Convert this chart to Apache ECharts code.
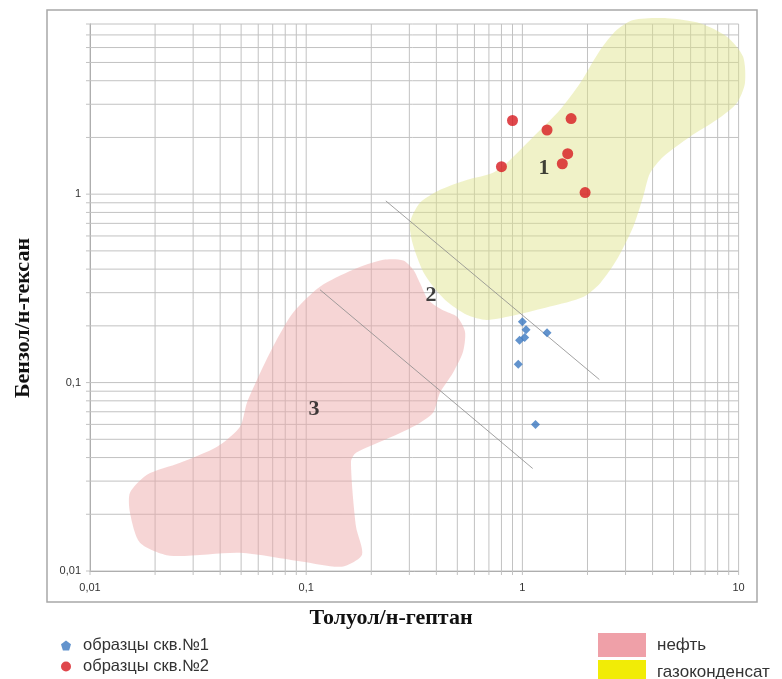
<!DOCTYPE html>
<html><head><meta charset="utf-8">
<script src="https://cdn.jsdelivr.net/npm/echarts@6/dist/echarts.min.js"></script>
<style>html,body{margin:0;padding:0;background:#fff}#chart{width:782px;height:679px}</style>
</head><body><div id="chart"></div>
<script>
// ---- axis ranges and tick labels ----
const X_MIN = 0.01, X_MAX = 10, Y_MIN = 0.01, Y_MAX = 8;
const xTickLabels = ['0,01', '0,1', '1', '10'];
const yTickLabels = ['0,01', '0,1', '1'];
const xGridValues = [0.01,0.02,0.03,0.04,0.05,0.06,0.07,0.08,0.09,0.1,0.2,0.3,0.4,0.5,0.6,0.7,0.8,0.9,1,2,3,4,5,6,7,8,9,10];
const yGridValues = [0.01,0.02,0.03,0.04,0.05,0.06,0.07,0.08,0.09,0.1,0.2,0.3,0.4,0.5,0.6,0.7,0.8,0.9,1,2,3,4,5,6,7,8];

// ---- series names ----
const well1Name = 'образцы скв.№1';
const well2Name = 'образцы скв.№2';
const oilName = 'нефть';
const gasName = 'газоконденсат';

// ---- samples: [толуол/н-гептан, бензол/н-гексан] ----
const well1 = [[1.00,0.210],[1.04,0.191],[0.97,0.168],[1.025,0.1735],[1.30,0.184],[0.957,0.125],[1.15,0.060]];
const well2 = [[0.90,2.46],[1.30,2.19],[1.68,2.52],[1.62,1.64],[1.53,1.45],[0.80,1.40],[1.95,1.02]];

// ---- field outlines (data coordinates) ----
const gasRegion = [[3.26,8.41],[4.65,8.59],[6.63,8.08],[8.81,6.86],[10.48,5.37],[10.7,3.88],[9.80,3.04],[7.92,2.48],[5.96,2.02],[4.48,1.58],[3.89,1.29],[3.62,0.971],[3.26,0.673],[2.73,0.448],[2.29,0.337],[1.91,0.285],[1.34,0.253],[0.942,0.229],[0.684,0.215],[0.552,0.229],[0.438,0.275],[0.354,0.373],[0.312,0.538],[0.302,0.705],[0.336,0.899],[0.416,1.054],[0.552,1.19],[0.731,1.30],[0.877,1.52],[1.12,2.01],[1.49,2.80],[1.85,3.89],[2.29,5.83],[2.73,7.44]];
const oilRegion = [[0.2274,0.448],[0.2813,0.4444],[0.3128,0.3967],[0.336,0.3372],[0.366,0.275],[0.4247,0.2433],[0.4983,0.2234],[0.5427,0.186],[0.5313,0.1457],[0.4775,0.1127],[0.4158,0.0883],[0.3859,0.0692],[0.3185,0.059],[0.2315,0.0497],[0.17,0.0424],[0.1611,0.038],[0.17,0.01718],[0.1812,0.0122],[0.1464,0.01054],[0.0966,0.0112],[0.0494,0.0125],[0.02344,0.01206],[0.01703,0.01413],[0.01531,0.0204],[0.01531,0.026],[0.01835,0.0324],[0.0261,0.0375],[0.0387,0.0456],[0.0494,0.0583],[0.0532,0.0781],[0.0592,0.1035],[0.0702,0.1548],[0.0869,0.2346],[0.1158,0.3224],[0.1646,0.3967]];

// ---- boundary lines ----
const boundaryA = [[0.2335,0.921],[2.27,0.1038]];
const boundaryB = [[0.1158,0.311],[1.116,0.035]];

// ---- region labels ----
const regionLabels = [
  {name:'1', value:[1.259,1.379]},
  {name:'2', value:[0.378,0.289]},
  {name:'3', value:[0.1087,0.0717]}
];

const SERIF = '"Liberation Serif","Times New Roman",serif';
const SANS = '"Liberation Sans",Arial,sans-serif';

function powLabel(v, labels) {
  const l = Math.log10(v);
  if (Math.abs(l - Math.round(l)) > 1e-6) return '';
  const i = Math.round(l) + 2;
  return labels[i] || '';
}

const chart = echarts.init(document.getElementById('chart'));

function gridV(params, api) {
  const v = api.value(0);
  const a = api.coord([v, Y_MIN]);
  const b = api.coord([v, Y_MAX]);
  return {type:'line', shape:{x1:a[0], y1:a[1] + 4, x2:b[0], y2:b[1]},
          style:{stroke:'#c2c2c2', lineWidth:1}};
}
function gridH(params, api) {
  const v = api.value(1);
  const a = api.coord([X_MIN, v]);
  const b = api.coord([X_MAX, v]);
  return {type:'line', shape:{x1:a[0] - 4, y1:a[1], x2:b[0], y2:b[1]},
          style:{stroke:'#c2c2c2', lineWidth:1}};
}
function regionRenderer(points, fill) {
  return function (params, api) {
    return {type:'polygon', shape:{points: points.map(p => api.coord(p)), smooth:0.25},
            style:{fill: fill}};
  };
}

const option = {
  animation: false,
  backgroundColor: '#fff',
  grid: {left: 90, top: 24, width: 648.6, height: 547},
  xAxis: {
    type: 'log', logBase: 10, min: X_MIN, max: X_MAX,
    axisLine: {show: true, lineStyle: {color: '#9a9a9a', width: 1}},
    axisTick: {show: false}, splitLine: {show: false},
    axisLabel: {formatter: v => powLabel(v, xTickLabels), fontSize: 11, color: '#333', fontFamily: SANS, margin: 11}
  },
  yAxis: {
    type: 'log', logBase: 10, min: Y_MIN, max: Y_MAX,
    axisLine: {show: true, lineStyle: {color: '#9a9a9a', width: 1}},
    axisTick: {show: false}, splitLine: {show: false},
    axisLabel: {formatter: v => powLabel(v, yTickLabels), fontSize: 11, color: '#333', fontFamily: SANS, margin: 9, showMaxLabel: false}
  },
  legend: [
    {
      orient: 'vertical', left: 61, top: 637, height: 100, padding: 0, itemGap: 4, itemWidth: 24, itemHeight: 10,
      textStyle: {fontSize: 16.5, color: '#333', fontFamily: SANS},
      data: [
        {name: well1Name, icon: 'path://M5,0 L10,3.8 L8.1,10 L1.9,10 L0,3.8 Z'},
        {name: well2Name, icon: 'circle'}
      ],
      selectedMode: false
    },
    {
      orient: 'vertical', left: 598, top: 633, height: 100, padding: 0, itemGap: 3, itemWidth: 48, itemHeight: 24,
      textStyle: {fontSize: 17, color: '#333', fontFamily: SANS, padding: [0, 0, 0, 6]},
      data: [
        {name: oilName, icon: 'rect', itemStyle: {color: '#efa0a8'}},
        {name: gasName, icon: 'rect', itemStyle: {color: '#f1ec06'}}
      ],
      selectedMode: false
    }
  ],
  graphic: [
    {type: 'rect', z: -10, shape: {x: 47, y: 10, width: 710, height: 592},
     style: {fill: 'none', stroke: '#a8a8a8', lineWidth: 1.5}},
    {type: 'text', x: 391, y: 618, style: {text: 'Толуол/н-гептан', font: 'bold 22px ' + SERIF, fill: '#111', align: 'center', verticalAlign: 'middle'}},
    {type: 'text', x: 23, y: 318, rotation: Math.PI / 2, style: {text: 'Бензол/н-гексан', font: 'bold 22px ' + SERIF, fill: '#111', align: 'center', verticalAlign: 'middle'}}
  ],
  series: [
    {type: 'custom', name: 'gridV', silent: true, z: 1, renderItem: gridV, encode: {x: 0, y: 1},
     data: xGridValues.map(v => [v, Y_MIN])},
    {type: 'custom', name: 'gridH', silent: true, z: 1, renderItem: gridH, encode: {x: 0, y: 1},
     data: yGridValues.map(v => [X_MIN, v])},
    {type: 'custom', name: oilName, silent: true, z: 2, clip: false, encode: {x: 0, y: 1},
     itemStyle: {color: '#efa0a8'},
     renderItem: regionRenderer(oilRegion, 'rgba(236,168,168,0.48)'), data: [oilRegion[0]]},
    {type: 'custom', name: gasName, silent: true, z: 2, clip: false, encode: {x: 0, y: 1},
     itemStyle: {color: '#f1ec06'},
     renderItem: regionRenderer(gasRegion, 'rgba(222,226,135,0.46)'), data: [gasRegion[0]]},
    {type: 'line', name: 'boundaryA', silent: true, z: 3, symbol: 'none', data: boundaryA,
     lineStyle: {color: '#8a8a8a', width: 0.8}},
    {type: 'line', name: 'boundaryB', silent: true, z: 3, symbol: 'none', data: boundaryB,
     lineStyle: {color: '#8a8a8a', width: 0.8}},
    {type: 'scatter', name: well1Name, z: 5, symbol: 'diamond', symbolSize: 9, data: well1,
     itemStyle: {color: '#3b78c0'}},
    {type: 'scatter', name: well2Name, z: 5, symbol: 'circle', symbolSize: 11, data: well2,
     itemStyle: {color: '#d7191f'}},
    {type: 'scatter', name: 'labels', z: 6, silent: true, symbolSize: 0, data: regionLabels,
     label: {show: true, position: 'inside', formatter: '{b}', fontFamily: SERIF, fontWeight: 'bold', fontSize: 22, color: '#111'}}
  ]
};
chart.setOption(option);
</script>
</body></html>
